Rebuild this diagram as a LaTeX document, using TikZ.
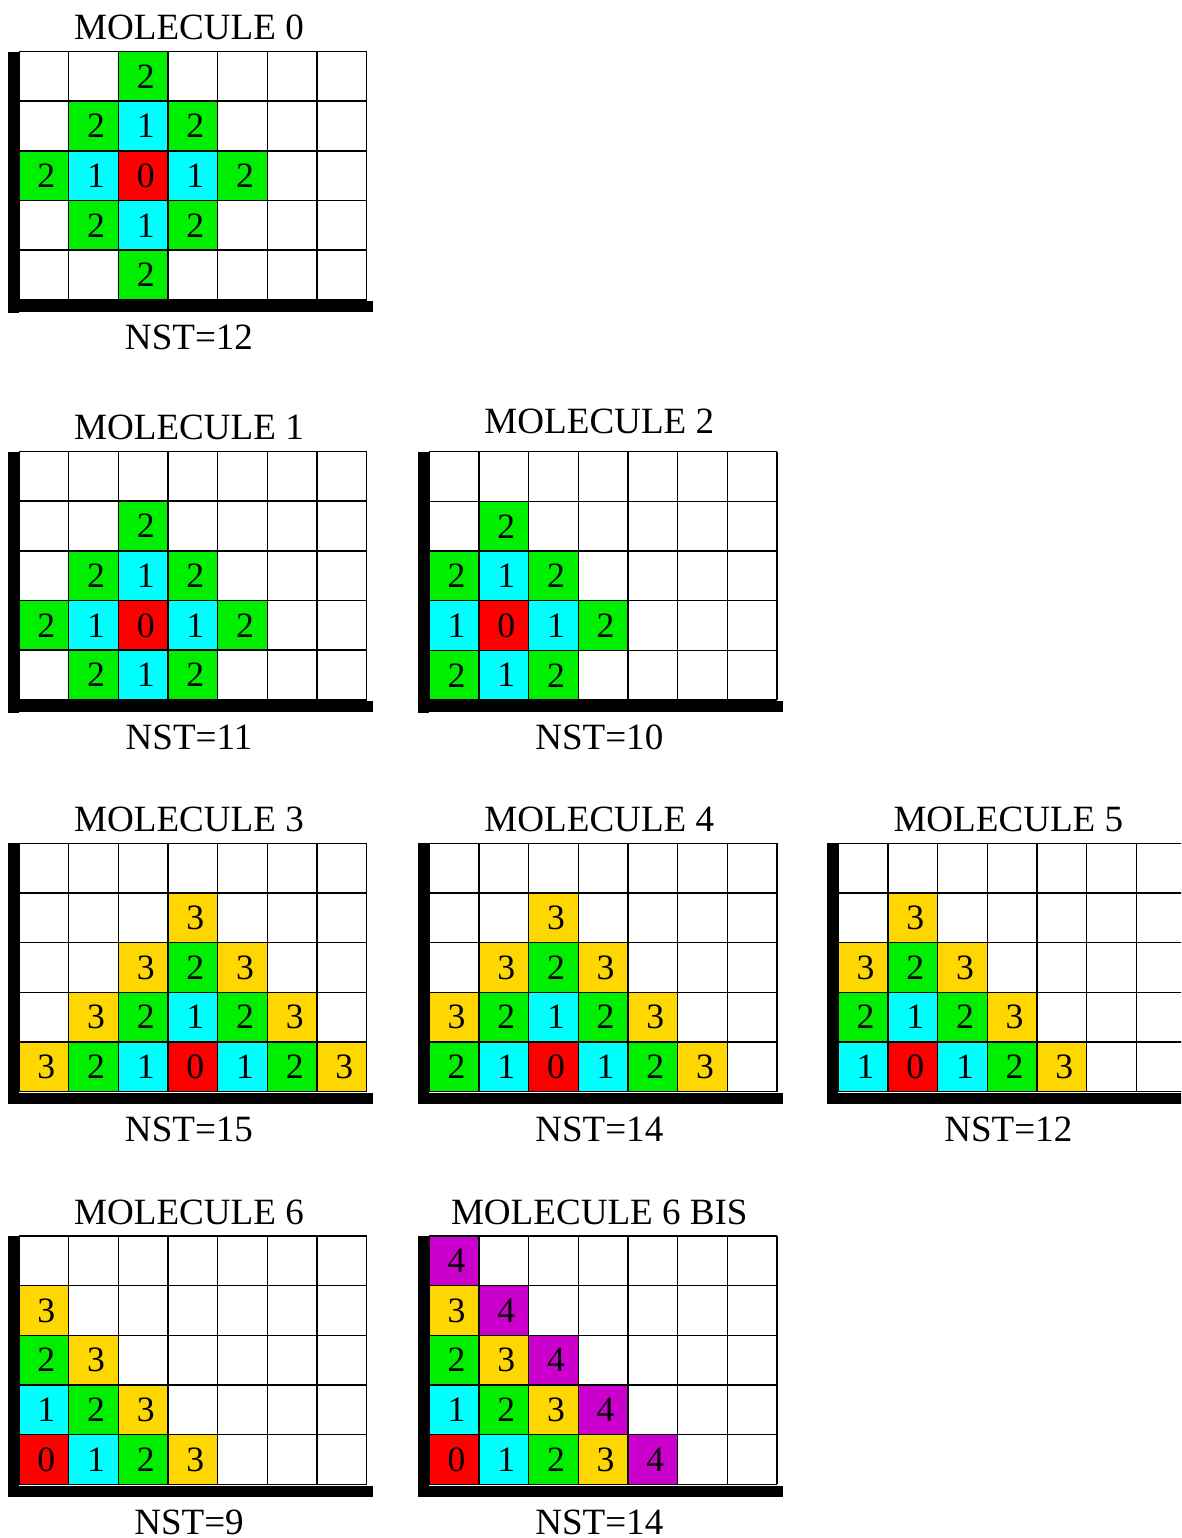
\documentclass[tikz,border=0pt]{standalone}
\usepackage{fontspec}
\setmainfont{Liberation Serif}
\usepackage{tikz}
\definecolor{lev0}{RGB}{255,0,0}
\definecolor{lev1}{RGB}{0,255,255}
\definecolor{lev2}{RGB}{0,238,0}
\definecolor{lev3}{RGB}{255,215,0}
\definecolor{lev4}{RGB}{204,0,204}
% #1 name, #2 x, #3 y, #4 title, #5 nst, #6 title height, #7 cells col/row/level
\newcommand{\molpanel}[7]{%
  \begin{scope}[shift={(#2,#3)}]
    \foreach \c/\r/\v in {#7}{
      \fill[lev\v] ({(\c-1)*49.67},{(\r-1)*49.67}) rectangle ({\c*49.67},{\r*49.67});
      \node[cell] (#1-\c-\r) at ({(\c-0.5)*49.67+2.5},{(\r-0.5)*49.67}) {\v};
    }
    \foreach \i in {0,...,7}{
      \draw[gridline] ({\i*49.67},0) -- ({\i*49.67},248.35);
    }
    \foreach \j in {0,...,5}{
      \draw[gridline] (0,{\j*49.67}) -- (347.7,{\j*49.67});
    }
    \fill (-11.5,0) rectangle (-0.5,261);
    \fill (0,249.5) rectangle (354,260.5);
    \node[label] (#1-title) at (170,#6) {#4};
    \node[label] (#1-nst) at (170,286) {#5};
  \end{scope}}

\begin{document}
\begin{tikzpicture}[
  x=0.02cm, y=-0.02cm,
  cell/.style={inner sep=0pt, font=\fontsize{20.3}{24}\selectfont},
  gridline/.style={line width=0.8pt, black},
  label/.style={inner sep=0pt, font=\fontsize{21.1}{25}\selectfont},
]
  \useasboundingbox (0,0) rectangle (1181,1538);
  \clip (0,0) rectangle (1181,1538);

  % Molecule 0
  \molpanel{m0}{19}{51.5}{MOLECULE 0}{NST=12}{-24}
    {3/1/2, 2/2/2,3/2/1,4/2/2, 1/3/2,2/3/1,3/3/0,4/3/1,5/3/2, 2/4/2,3/4/1,4/4/2, 3/5/2}

  % Molecule 1
  \molpanel{m1}{19}{451.5}{MOLECULE 1}{NST=11}{-24}
    {3/2/2, 2/3/2,3/3/1,4/3/2, 1/4/2,2/4/1,3/4/0,4/4/1,5/4/2, 2/5/2,3/5/1,4/5/2}

  % Molecule 2
  \molpanel{m2}{429.3}{451.7}{MOLECULE 2}{NST=10}{-30}
    {2/2/2, 1/3/2,2/3/1,3/3/2, 1/4/1,2/4/0,3/4/1,4/4/2, 1/5/2,2/5/1,3/5/2}

  % Molecule 3
  \molpanel{m3}{19}{843.3}{MOLECULE 3}{NST=15}{-24}
    {4/2/3, 3/3/3,4/3/2,5/3/3, 2/4/3,3/4/2,4/4/1,5/4/2,6/4/3,
     1/5/3,2/5/2,3/5/1,4/5/0,5/5/1,6/5/2,7/5/3}

  % Molecule 4
  \molpanel{m4}{429.3}{843.3}{MOLECULE 4}{NST=14}{-24}
    {3/2/3, 2/3/3,3/3/2,4/3/3, 1/4/3,2/4/2,3/4/1,4/4/2,5/4/3,
     1/5/2,2/5/1,3/5/0,4/5/1,5/5/2,6/5/3}

  % Molecule 5
  \molpanel{m5}{838.3}{843.3}{MOLECULE 5}{NST=12}{-24}
    {2/2/3, 1/3/3,2/3/2,3/3/3, 1/4/2,2/4/1,3/4/2,4/4/3, 1/5/1,2/5/0,3/5/1,4/5/2,5/5/3}

  % Molecule 6
  \molpanel{m6}{19}{1236}{MOLECULE 6}{NST=9}{-24}
    {1/2/3, 1/3/2,2/3/3, 1/4/1,2/4/2,3/4/3, 1/5/0,2/5/1,3/5/2,4/5/3}

  % Molecule 6 bis
  \molpanel{m6b}{429.3}{1236}{MOLECULE 6 BIS}{NST=14}{-24}
    {1/1/4, 1/2/3,2/2/4, 1/3/2,2/3/3,3/3/4, 1/4/1,2/4/2,3/4/3,4/4/4,
     1/5/0,2/5/1,3/5/2,4/5/3,5/5/4}
\end{tikzpicture}
\end{document}
